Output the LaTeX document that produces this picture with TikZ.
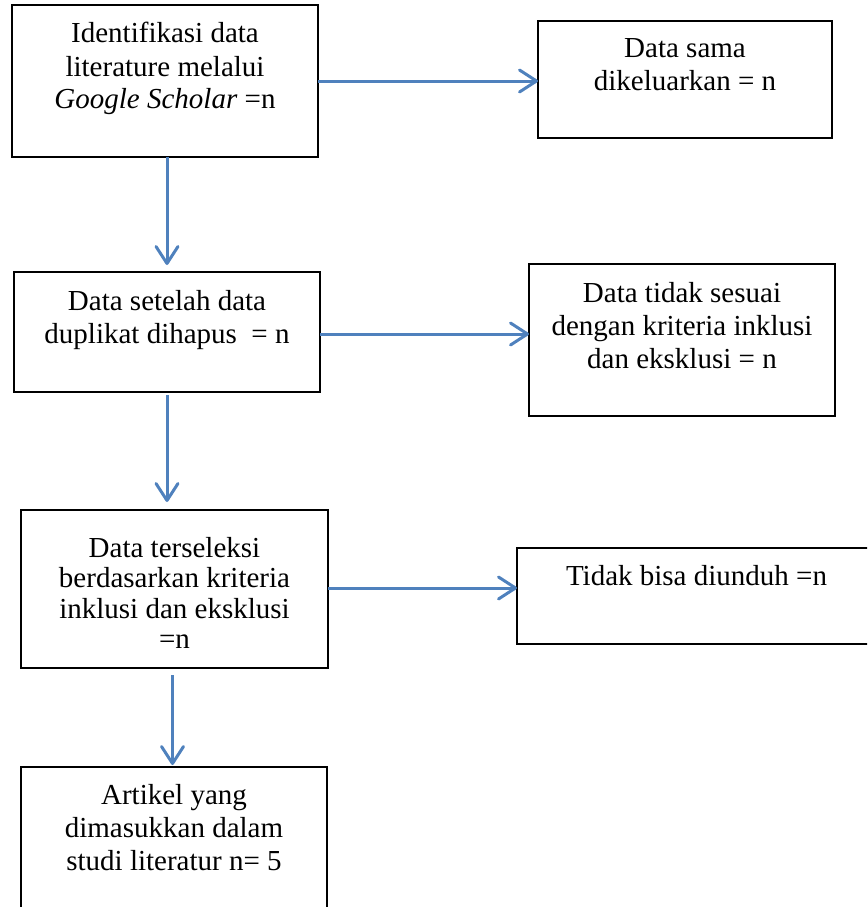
\documentclass[tikz,border=0pt]{standalone}
\usepackage{fontspec}
\setmainfont{Liberation Serif}
\usetikzlibrary{arrows.meta,calc}
\definecolor{arrowblue}{RGB}{79,129,189}
\newcommand{\boxtxt}[4]{\parbox[t][#2pt][t]{#1pt}{\centering\rule{0pt}{#3pt}#4}}
\tikzset{
  flowbox/.style={draw=black, line width=1.2pt, inner sep=0pt, outer sep=0pt, anchor=north west,
    font=\fontsize{29pt}{33pt}\selectfont},
  conn/.style={draw=arrowblue, line width=3pt, -{Straight Barb[length=17pt,width=22pt,round]}}
}
\begin{document}
\begin{tikzpicture}[x=1pt,y=-1pt]
\useasboundingbox (0,0) rectangle (867,907);
\clip (0,0) rectangle (867,907);

\node[flowbox] (a) at (12,5) {\boxtxt{306}{152}{38}{Identifikasi data\\ literature melalui\\ \textit{Google Scholar} =n}};
\node[flowbox] (b) at (538,21) {\boxtxt{294}{117}{36}{Data sama\\ dikeluarkan = n}};
\node[flowbox] (c) at (14,272) {\boxtxt{306}{120}{38}{Data setelah data\\ duplikat dihapus~ = n}};
\node[flowbox] (d) at (529,264) {\boxtxt{306}{152}{38}{Data tidak sesuai\\ dengan kriteria inklusi\\ dan eksklusi = n}};
\node[flowbox, font=\fontsize{29pt}{30.5pt}\selectfont] (e) at (21,510) {\boxtxt{307}{158}{47}{Data terseleksi\\ berdasarkan kriteria\\ inklusi dan eksklusi\\ =n}};
\node[flowbox] (f) at (517,548) {\boxtxt{359}{96}{37}{Tidak bisa diunduh =n}};
\node[flowbox] (g) at (21,767) {\boxtxt{306}{160}{37}{Artikel yang\\ dimasukkan dalam\\ studi literatur n= 5}};

\draw[conn] (a.east) -- (a.east -| b.west);
\draw[conn] ($(a.south)+(2,0)$) -- ($(c.north)+(0,-7)$);
\draw[conn] ($(c.east)+(0,2)$) -- ($(c.east -| d.west)+(0,2)$);
\draw[conn] ($(c.south)+(0,3)$) -- ($(c.south |- e.north)+(0,-8)$);
\draw[conn] ($(e.east)+(0,-1)$) -- ($(e.east -| f.west)+(0,-1)$);
\draw[conn] ($(e.south)+(-2,7)$) -- ($(e.south |- g.north)+(-2,-2)$);
\end{tikzpicture}
\end{document}
